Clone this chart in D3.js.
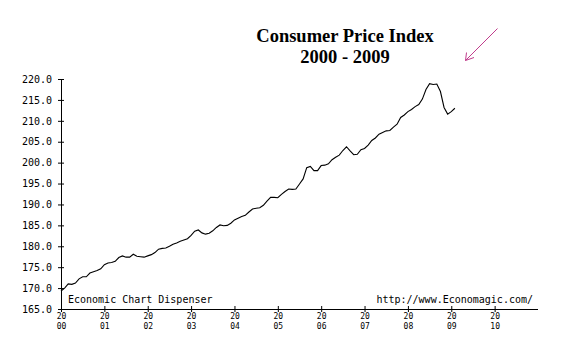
<!DOCTYPE html>
<html>
<head>
<meta charset="utf-8">
<script src="https://cdn.jsdelivr.net/npm/d3@7/dist/d3.min.js"></script>
<style>
  html, body { margin: 0; padding: 0; background: #fff; }
  svg { display: block; }
  .mono { font-family: "DejaVu Sans Mono", monospace; fill: #000; }
</style>
</head>
<body>
<script>
// ---- Data (CPI, monthly, Jan 2000 - Feb 2009) ----
const startYear = 2000;
const cpi2000 = [169.3,170.0,171.0,170.9,171.2,172.2,172.7,172.7,173.6,173.9,174.2,174.6];
const cpi2001 = [175.6,176.0,176.1,176.4,177.3,177.7,177.4,177.4,178.1,177.6,177.5,177.4];
const cpi2002 = [177.7,178.0,178.5,179.3,179.5,179.6,180.0,180.5,180.8,181.2,181.5,181.8];
const cpi2003 = [182.6,183.6,183.9,183.2,182.9,183.1,183.7,184.5,185.1,184.9,185.0,185.5];
const cpi2004 = [186.3,186.7,187.1,187.4,188.2,188.9,189.1,189.2,189.8,190.8,191.7,191.7];
const cpi2005 = [191.6,192.4,193.1,193.7,193.6,193.7,194.9,196.1,198.8,199.1,198.1,198.1];
const cpi2006 = [199.3,199.4,199.7,200.7,201.3,201.8,202.9,203.8,202.8,201.9,202.0,203.1];
const cpi2007 = [203.4,204.2,205.3,205.9,206.8,207.2,207.6,207.7,208.5,209.2,210.8,211.4];
const cpi2008 = [212.2,212.7,213.4,213.9,215.2,217.5,218.9,218.7,218.8,217.0,213.2,211.6];
const cpi2009 = [212.2,213.0];

const yTicks = [165,170,175,180,185,190,195,200,205,210,215,220];
const xTicks = [2000,2001,2002,2003,2004,2005,2006,2007,2008,2009,2010];
const titleLines = ["Consumer Price Index", "2000 - 2009"];
const leftNote = "Economic Chart Dispenser";
const rightNote = "http://www.Economagic.com/";

const values = [].concat(cpi2000,cpi2001,cpi2002,cpi2003,cpi2004,cpi2005,cpi2006,cpi2007,cpi2008,cpi2009);
const data = values.map((v,i) => ({t: startYear + i/12, v}));

// ---- Layout ----
const W = 571, H = 356;
const svg = d3.select("body").append("svg").attr("width", W).attr("height", H);
svg.append("rect").attr("width", W).attr("height", H).attr("fill", "#fff");

const x = d3.scaleLinear().domain([2000, 2011]).range([61, 538]);
const y = d3.scaleLinear().domain([165, 220]).range([309, 79]);

// Title
svg.append("g").selectAll("text").data(titleLines).join("text")
  .attr("x", 345).attr("y", (d,i) => 41.5 + i*21.5)
  .attr("text-anchor", "middle")
  .attr("font-family", "'Liberation Serif', 'Times New Roman', serif")
  .attr("font-weight", "bold").attr("font-size", "18.5px")
  .attr("fill", "#000")
  .text(d => d);

// Arrow annotation
const arrow = svg.append("g").attr("stroke", "#c03c8c").attr("stroke-width", 1).attr("fill", "none");
arrow.append("line").attr("x1", 497.5).attr("y1", 28.5).attr("x2", 465.5).attr("y2", 60.5);
arrow.append("line").attr("x1", 465.5).attr("y1", 60.5).attr("x2", 466.5).attr("y2", 52.5);
arrow.append("line").attr("x1", 465.5).attr("y1", 60.5).attr("x2", 474).attr("y2", 57.5);

// Y axis
const yAxis = svg.append("g").attr("transform", `translate(${x(2000)},0)`)
  .call(d3.axisLeft(y).tickValues(yTicks).tickSize(3).tickSizeOuter(0).tickPadding(6)
        .tickFormat(d3.format(".1f")));
yAxis.select(".domain").remove();
yAxis.append("line").attr("x1", 0.5).attr("x2", 0.5).attr("y1", y(220)).attr("y2", y(165) + 3).attr("stroke", "#000");
yAxis.selectAll(".tick line").attr("x1", -3).attr("x2", 3).attr("stroke", "#000");
yAxis.selectAll(".tick text").attr("class", "mono").attr("font-size", "10px").attr("font-family", "'DejaVu Sans Mono', monospace").attr("fill", "#000");

// X axis
const xAxis = svg.append("g").attr("transform", `translate(0,${y(165)})`)
  .call(d3.axisBottom(x).tickValues(xTicks).tickSize(3).tickSizeOuter(0).tickFormat(""));
xAxis.select(".domain").remove();
xAxis.append("line").attr("x1", x(2000)).attr("x2", x(2011)).attr("y1", 0.5).attr("y2", 0.5).attr("stroke", "#000");
xAxis.selectAll(".tick line").attr("y1", -3).attr("y2", 3).attr("stroke", "#000");
xAxis.selectAll(".tick").each(function(d) {
  const s = String(d);
  const g = d3.select(this);
  const common = t => t.attr("text-anchor", "middle").attr("fill", "#000")
    .attr("font-family", "'DejaVu Sans Mono', monospace").attr("font-size", "8px");
  common(g.append("text").attr("x", 0).attr("y", 10)).text(s.slice(0,2));
  common(g.append("text").attr("x", 0).attr("y", 19.5)).text(s.slice(2));
});

// Footer notes
svg.append("text").attr("x", 68).attr("y", 303).attr("class", "mono").attr("font-size", "10px").text(leftNote);
svg.append("text").attr("x", 533).attr("y", 303).attr("text-anchor", "end").attr("class", "mono").attr("font-size", "10px").text(rightNote);

// Line
const line = d3.line().x(d => x(d.t)).y(d => y(d.v));
svg.append("path").datum(data).attr("d", line)
  .attr("fill", "none").attr("stroke", "#000").attr("stroke-width", 1.1);
</script>
</body>
</html>
